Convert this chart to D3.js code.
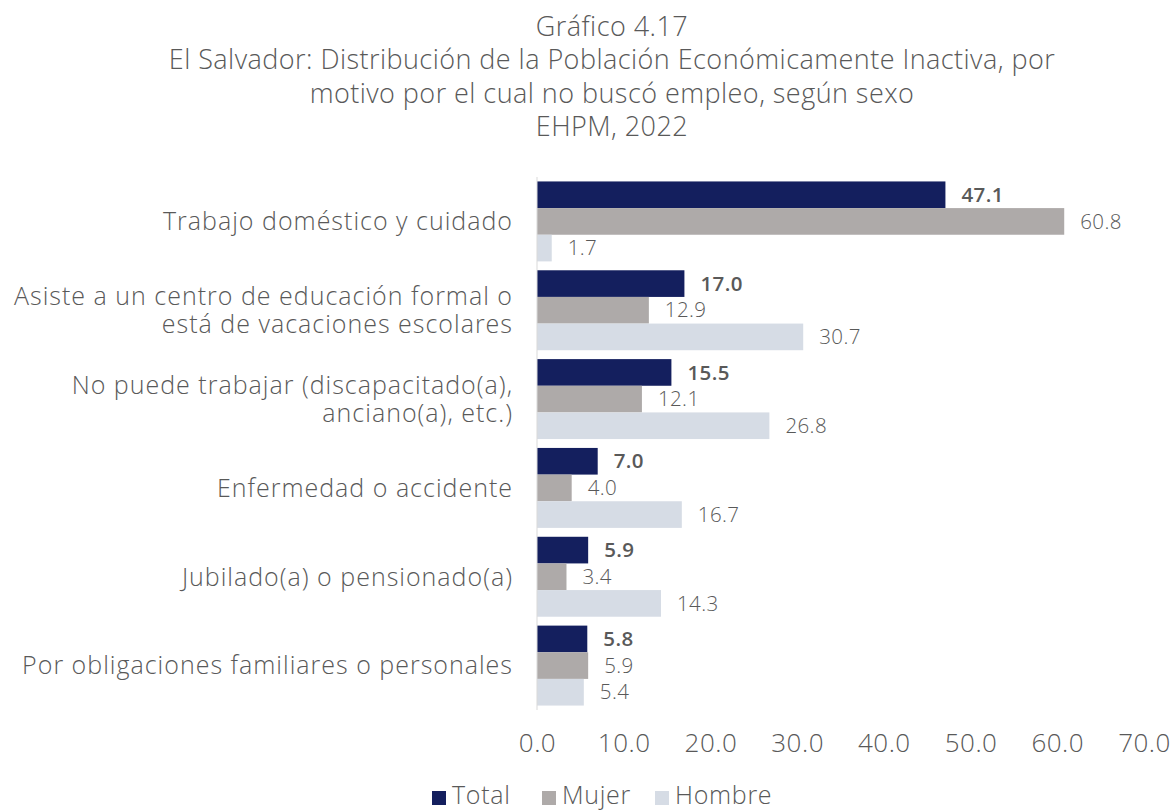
<!DOCTYPE html>
<html>
<head>
<meta charset="utf-8">
<script src="https://cdn.jsdelivr.net/npm/d3@7"></script>
<style>
  html, body { margin: 0; padding: 0; background: #fff; }
  svg { display: block; font-family: "Open Sans", Lato, sans-serif; }
</style>
</head>
<body>
<svg id="chart" width="1176" height="812"></svg>
<script>
// Motivos por los que no buscó empleo (categorías del eje vertical)
const categories = [
  ["Trabajo doméstico y cuidado"],
  ["Asiste a un centro de educación formal o", "está de vacaciones escolares"],
  ["No puede trabajar (discapacitado(a),", "anciano(a), etc.)"],
  ["Enfermedad o accidente"],
  ["Jubilado(a) o pensionado(a)"],
  ["Por obligaciones familiares o personales"]
];
const seriesNames = ["Total", "Mujer", "Hombre"];
const totalValues  = [47.1, 17.0, 15.5, 7.0, 5.9, 5.8];
const mujerValues  = [60.8, 12.9, 12.1, 4.0, 3.4, 5.9];
const hombreValues = [1.7, 30.7, 26.8, 16.7, 14.3, 5.4];
const xTicks = [0, 10, 20, 30, 40, 50, 60, 70];
const titleLines = [
  "Gráfico 4.17",
  "El Salvador: Distribución de la Población Económicamente Inactiva, por",
  "motivo por el cual no buscó empleo, según sexo",
  "EHPM, 2022"
];

const colors = { Total: "#141f5e", Mujer: "#aeaaa9", Hombre: "#d6dce5" };
const textColor = "#595959";

const seriesValues = { Total: totalValues, Mujer: mujerValues, Hombre: hombreValues };
const rows = categories.map((c, i) => ({
  key: i, lines: c,
  values: seriesNames.map(s => ({ series: s, value: seriesValues[s][i] }))
}));

const svg = d3.select("#chart");

// Título
const title = svg.append("g").attr("text-anchor", "middle")
  .attr("fill", textColor).style("font-size", "27px").style("font-weight", 300)
  .style("letter-spacing", "0.45px");
titleLines.forEach((t, i) => {
  title.append("text").attr("x", 612).attr("y", 36 + i * 33.3).text(t);
});

const margin = { left: 537, top: 177, bottom: 102 };
const plotBottom = 812 - margin.bottom;

const x = d3.scaleLinear().domain([0, 70]).range([margin.left, 1144]);
const y0 = d3.scaleBand().domain(rows.map(d => d.key))
  .range([margin.top, plotBottom]).paddingInner(0.1).paddingOuter(0.05);
const y1 = d3.scaleBand().domain(seriesNames).range([0, y0.bandwidth()]);

// Barras
const groups = svg.append("g").selectAll("g").data(rows).join("g")
  .attr("transform", d => `translate(0,${y0(d.key)})`);

groups.selectAll("rect").data(d => d.values).join("rect")
  .attr("x", x(0))
  .attr("y", d => y1(d.series))
  .attr("width", d => x(d.value) - x(0))
  .attr("height", y1.bandwidth())
  .attr("fill", d => colors[d.series]);

// Etiquetas de valor
groups.selectAll("text.val").data(d => d.values).join("text")
  .attr("class", "val")
  .attr("x", d => x(d.value) + 16)
  .attr("y", d => y1(d.series) + y1.bandwidth() / 2)
  .attr("dy", "0.35em")
  .attr("fill", textColor)
  .style("font-size", "20.5px")
  .style("letter-spacing", "0.4px")
  .style("font-weight", d => d.series === "Total" ? 600 : 300)
  .text(d => d3.format(".1f")(d.value));

// Eje vertical
svg.append("line")
  .attr("x1", x(0)).attr("x2", x(0))
  .attr("y1", margin.top).attr("y2", plotBottom)
  .attr("stroke", "#d9d9d9").attr("stroke-width", 1);

// Etiquetas de categoría
const catG = svg.append("g").attr("text-anchor", "end")
  .attr("fill", textColor).style("font-size", "25px").style("font-weight", 300)
  .style("letter-spacing", "1px");
rows.forEach(r => {
  const cy = y0(r.key) + y0.bandwidth() / 2;
  const lh = 28;
  r.lines.forEach((ln, j) => {
    catG.append("text")
      .attr("x", 513)
      .attr("y", cy + (j - (r.lines.length - 1) / 2) * lh)
      .attr("dy", "0.35em")
      .text(ln);
  });
});

// Eje horizontal (solo etiquetas)
const xAxis = d3.axisBottom(x).tickValues(xTicks).tickFormat(d3.format(".1f")).tickSize(0).tickPadding(0);
const xg = svg.append("g").attr("transform", `translate(0,${plotBottom + 42})`).call(xAxis);
xg.select(".domain").remove();
xg.selectAll("text")
  .attr("fill", textColor)
  .style("font-size", "26px").style("font-weight", 300)
  .style("letter-spacing", "0.5px")
  .style("font-family", "'Open Sans', Lato, sans-serif")
  .attr("dy", "0");

// Leyenda
const legend = svg.append("g").attr("transform", "translate(0,804)");
const legendX = [432, 542, 655];
seriesNames.forEach((s, i) => {
  const g = legend.append("g").attr("transform", `translate(${legendX[i]},0)`);
  g.append("rect").attr("x", 0).attr("y", -13).attr("width", 14).attr("height", 14).attr("fill", colors[s]);
  g.append("text").attr("x", 20)
    .attr("fill", textColor).style("font-size", "25px").style("font-weight", 300)
    .style("letter-spacing", "0.7px")
    .text(s);
});
</script>
</body>
</html>
